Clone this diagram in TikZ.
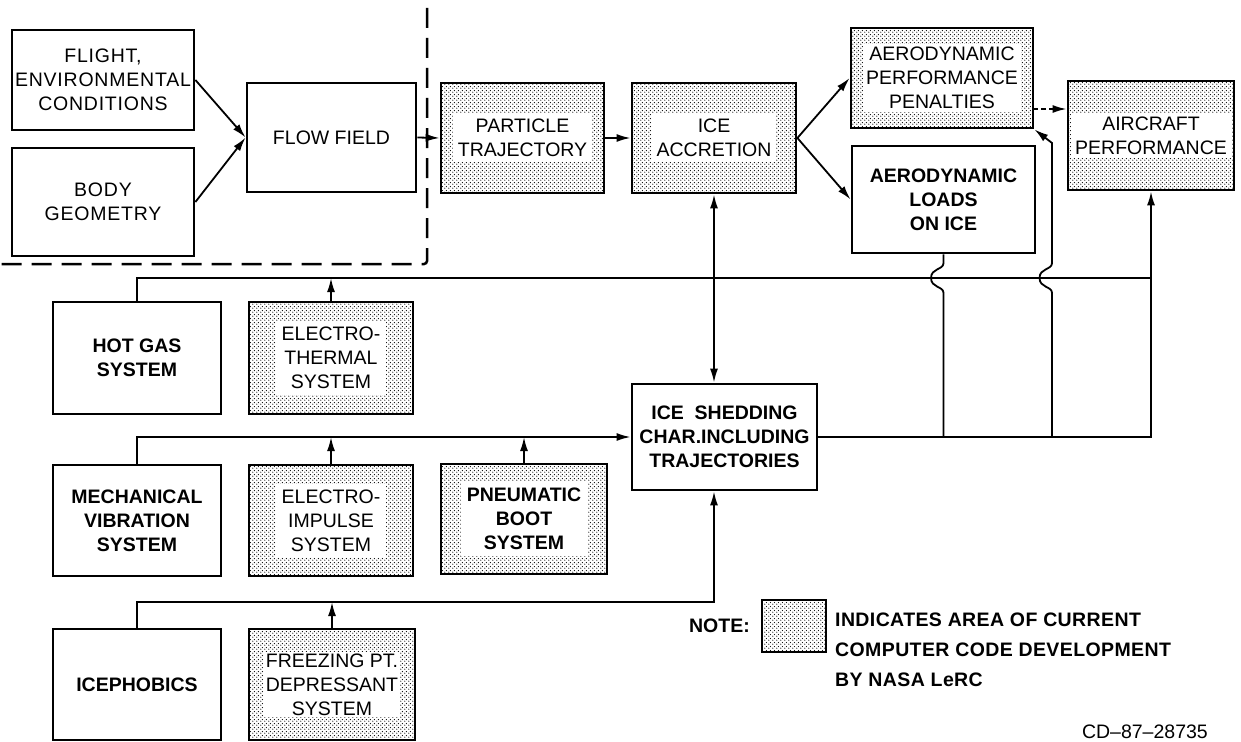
\documentclass[tikz,border=0pt]{standalone}
\usepackage{fontspec}
\setmainfont{Liberation Sans}
\usetikzlibrary{arrows.meta,patterns}
\pgfdeclarepatternformonly{stipple}{\pgfpointorigin}{\pgfpoint{4pt}{4pt}}{\pgfpoint{4pt}{4pt}}{%
  \pgfpathcircle{\pgfpoint{1pt}{1pt}}{0.75pt}%
  \pgfpathcircle{\pgfpoint{3pt}{3pt}}{0.75pt}%
  \pgfusepath{fill}}
\newcommand\dgreg{\fontsize{19.5}{24}\selectfont}
\newcommand\dgspaced{\fontsize{19.5}{24}\selectfont\addfontfeatures{LetterSpace=4}}
\newcommand\dgbold{\fontsize{19.5}{24}\selectfont\bfseries}
\newcommand\dgnote{\fontsize{19.5}{30}\selectfont\bfseries\addfontfeatures{LetterSpace=2}}
\tikzset{
  box/.style={draw, line width=2.8pt, inner sep=0pt, align=center, font=\dgreg},
  boldbox/.style={box, font=\dgbold},
  shadebox/.style={box, pattern=stipple, pattern color=black},
  lbl/.style={fill=white, inner sep=4pt, align=center, font=\dgreg},
  boldlbl/.style={lbl, font=\dgbold},
  conn/.style={line width=1.8pt},
  arr/.style={conn, -{Latex[length=14pt,width=8pt]}},
  darr/.style={conn, {Latex[length=14pt,width=8pt]}-{Latex[length=14pt,width=8pt]}},
  shortdash/.style={dash pattern=on 5pt off 3pt},
  border/.style={line width=2.5pt, dash pattern=on 20pt off 10pt, rounded corners=3pt},
}
\begin{document}
\begin{tikzpicture}[x=1pt,y=-1pt]
\fill[white] (0,0) rectangle (1241,741);
\useasboundingbox (0,0) rectangle (1241,741);

% top row
\node[box, font=\dgspaced, minimum width=182pt, minimum height=100pt] (flight) at (103,80) {FLIGHT,\\ENVIRONMENTAL\\CONDITIONS};
\node[box, font=\dgspaced, minimum width=182pt, minimum height=108pt] (body) at (103,202) {BODY\\GEOMETRY};
\node[box, minimum width=169pt, minimum height=109pt] (flow) at (331.5,137.5) {FLOW FIELD};
\node[shadebox, minimum width=163pt, minimum height=110pt] (part) at (522.5,138) {};
\node[lbl, inner sep=5pt] (partL) at (part.center) {PARTICLE\\TRAJECTORY};
\node[shadebox, minimum width=164pt, minimum height=110pt] (acc) at (714,138) {};
\node[lbl, inner sep=5pt] (accL) at (acc.center) {ICE\\ACCRETION};
\node[shadebox, minimum width=182pt, minimum height=100pt] (pen) at (942,78) {};
\node[lbl, inner sep=3pt] (penL) at (pen.center) {AERODYNAMIC\\PERFORMANCE\\PENALTIES};
\node[boldbox, minimum width=183pt, minimum height=107pt] (loads) at (943.5,199.5) {AERODYNAMIC\\LOADS\\ON ICE};
\node[shadebox, minimum width=166pt, minimum height=109pt] (air) at (1151,135.5) {};
\node[lbl] (airL) at (air.center) {AIRCRAFT\\PERFORMANCE};

% dashed boundary
\draw[border] (427,8) -- (427,264) -- (0,264);

% left systems
\node[boldbox, minimum width=168pt, minimum height=112pt] (hot) at (137,358) {HOT GAS\\SYSTEM};
\node[shadebox, minimum width=164pt, minimum height=112pt] (eth) at (331,358) {};
\node[lbl, inner sep=6pt] (ethL) at (eth.center) {ELECTRO-\\THERMAL\\SYSTEM};
\node[boldbox, minimum width=168pt, minimum height=111pt] (mech) at (137,520.5) {MECHANICAL\\VIBRATION\\SYSTEM};
\node[shadebox, minimum width=164pt, minimum height=111pt] (eimp) at (331,520.5) {};
\node[lbl, inner sep=6pt] (eimpL) at (eimp.center) {ELECTRO-\\IMPULSE\\SYSTEM};
\node[shadebox, minimum width=166pt, minimum height=110pt] (pneu) at (524,519) {};
\node[boldlbl, inner sep=6pt] (pneuL) at (pneu.center) {PNEUMATIC\\BOOT\\SYSTEM};
\node[boldbox, minimum width=168pt, minimum height=111pt] (iceph) at (137,684.5) {ICEPHOBICS};
\node[shadebox, minimum width=166pt, minimum height=111pt] (frz) at (332,684.5) {};
\node[lbl, inner sep=2pt] (frzL) at (frz.center) {FREEZING PT.\\DEPRESSANT\\SYSTEM};

% ice shedding
\node[boldbox, minimum width=185pt, minimum height=106pt] (shed) at (724.5,437) {ICE\ \ SHEDDING\\CHAR.INCLUDING\\TRAJECTORIES};

% junction coordinates
\coordinate (jA) at (1151,278);
\coordinate (jB) at (714,602);
\coordinate (jL) at (943.5,437);
\coordinate (jP) at (1052,437);
\coordinate (pd) at (1033,109);

% top connectors
\draw[arr] (flight.east) -- (flow.west);
\draw[arr] (body.east) -- (flow.west);
\draw[arr] (flow.east) -- (part.west);
\draw[arr] (part.east) -- (acc.west);
\draw[arr] (acc.east) -- (pen.west);
\draw[arr] (acc.east) -- (loads.west);
\draw[arr, shortdash] (pd) -- (air.west |- pd);

% bus lines
\draw[conn] (hot.north) |- (jA);
\draw[arr] (eth.north) -- (eth.north |- jA);
\draw[arr] (shed.east) -| (air.south);
\draw[arr] (mech.north) |- (shed.west);
\draw[arr] (eimp.north) -- (eimp.north |- shed.west);
\draw[arr] (pneu.north) -- (pneu.north |- shed.west);
\draw[arr] (iceph.north) |- (jB) -- (jB |- shed.south);
\draw[arr] (frz.north) -- (frz.north |- jB);
\draw[darr] (acc.south) -- (acc.south |- shed.north);

% feedback lines with hops
\draw[conn] (loads.south) -- (943.5,263) .. controls (943.5,270) and (931,268) .. (931,278) .. controls (931,288) and (943.5,286) .. (943.5,293) -- (jL);
\draw[arr] (jP) -- (1052,293) .. controls (1052,286) and (1039.5,288) .. (1039.5,278) .. controls (1039.5,268) and (1052,270) .. (1052,263) -- (1052,143) -- (pen.south east);

% note
\node[font=\dgbold, anchor=east, inner sep=0pt] (note) at (750,626) {NOTE:};
\node[shadebox, minimum width=64pt, minimum height=52pt] (key) at (794,626) {};
\node[font=\dgnote, anchor=north west, inner sep=0pt, align=left] (notetxt) at (835,613) {INDICATES AREA OF CURRENT\\COMPUTER CODE DEVELOPMENT\\BY NASA LeRC};
\node[font=\dgreg, anchor=base east, inner sep=0pt] (cd) at (1208,738) {CD–87–28735};
\end{tikzpicture}
\end{document}
